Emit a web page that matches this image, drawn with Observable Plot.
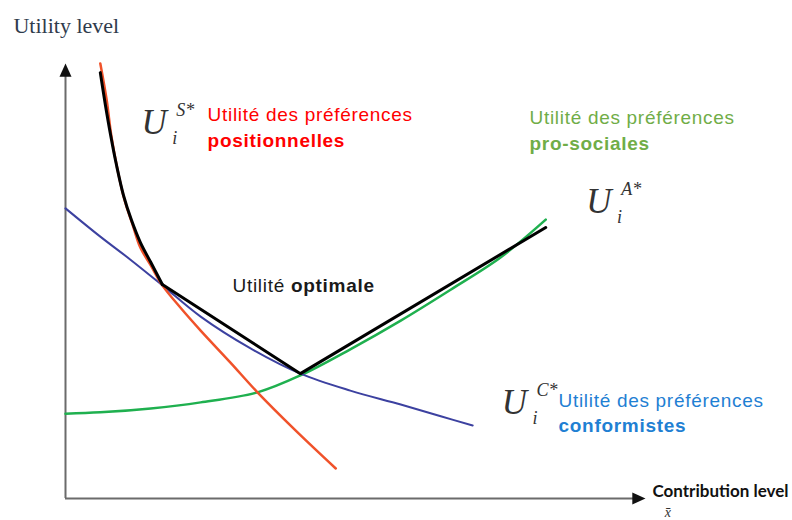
<!DOCTYPE html>
<html><head><meta charset="utf-8">
<script src="https://cdn.jsdelivr.net/npm/d3@7"></script>
<script src="https://cdn.jsdelivr.net/npm/@observablehq/plot@0.6"></script>
<style>body{margin:0;background:#fff}</style>
</head><body><div id="chart"></div>
<script>
// Positional preferences (red)
const redX = [0.60,0.71,0.79,0.90,1.02,1.16,1.29,1.47,1.67,1.98,2.33,2.84,3.31,3.97,4.66];
const redY = [10.0,9.16,8.34,7.54,6.85,6.28,5.77,5.36,4.90,4.39,3.86,3.13,2.44,1.56,0.69];
// Conformist preferences (blue)
const blueX = [0,0.60,1.12,1.67,2.33,3.19,4.05,4.91,5.78,6.47,7.02];
const blueY = [6.67,6.02,5.49,4.90,4.18,3.45,2.87,2.48,2.16,1.89,1.68];
// Pro-social preferences (green)
const greenX = [0,0.60,1.47,2.33,3.31,4.05,4.91,5.78,6.64,7.50,8.28];
const greenY = [1.95,1.98,2.07,2.21,2.44,2.83,3.43,4.09,4.80,5.54,6.41];
// Optimal utility (black envelope): curved part, then straight part
const blackCurveX = [0.60,0.69,0.78,0.88,1.00,1.14,1.29,1.47,1.67];
const blackCurveY = [9.79,9.03,8.34,7.66,6.97,6.39,5.89,5.43,4.92];
const blackLineX = [1.67,4.05,8.28];
const blackLineY = [4.92,2.87,6.23];

const pts = (xs, ys) => xs.map((x, i) => ({x, y: ys[i]}));

const upTri = {draw(ctx, size){ const r = Math.sqrt(size/Math.PI); ctx.moveTo(0,0); ctx.lineTo(-r, 2.2*r); ctx.lineTo(r, 2.2*r); ctx.closePath(); }};
const rightTri = {draw(ctx, size){ const r = Math.sqrt(size/Math.PI); ctx.moveTo(0,0); ctx.lineTo(-2.2*r, -r); ctx.lineTo(-2.2*r, r); ctx.closePath(); }};

const SANS = "Liberation Sans, Arial, sans-serif";
const SERIF = "Liberation Serif, Times New Roman, serif";

function label(str, x, y, o = {}) {
  return Plot.text([str], {x, y, text: d => d, textAnchor: "start", lineAnchor: "bottom", ...o});
}
function uSym(sup, x, y) {
  return [
    label("U", x, y, {fontFamily: SERIF, fontStyle: "italic", fontSize: 35, fill: "#333"}),
    label(sup, x + 0.60, y + 0.41, {fontFamily: SERIF, fontStyle: "italic", fontSize: 18, fill: "#333"}),
    label("i", x + 0.53, y - 0.23, {fontFamily: SERIF, fontStyle: "italic", fontSize: 18, fill: "#333"})
  ];
}

const chart = Plot.plot({
  width: 792, height: 520,
  marginLeft: 65, marginRight: 147, marginTop: 63, marginBottom: 22,
  x: {domain: [0, 10], axis: null},
  y: {domain: [0, 10], axis: null},
  style: {background: "#fff", overflow: "visible"},
  marks: [
    Plot.ruleX([0], {y1: 0, y2: 9.75, stroke: "#6b6b6b", strokeWidth: 2}),
    Plot.ruleY([0], {x1: 0, x2: 9.8, stroke: "#6b6b6b", strokeWidth: 2}),
    Plot.dot([[0, 10]], {symbol: upTri, r: 6, fill: "#111", stroke: "none"}),
    Plot.dot([[10, 0]], {symbol: rightTri, r: 6, fill: "#111", stroke: "none"}),
    Plot.line(pts(greenX, greenY), {x: "x", y: "y", stroke: "#1fb04f", strokeWidth: 2.5, curve: "catmull-rom"}),
    Plot.line(pts(blueX, blueY), {x: "x", y: "y", stroke: "#3c41a0", strokeWidth: 2, curve: "catmull-rom"}),
    Plot.line(pts(redX, redY), {x: "x", y: "y", stroke: "#f0522a", strokeWidth: 2.5, curve: "catmull-rom"}),
    Plot.line(pts(blackCurveX, blackCurveY), {x: "x", y: "y", stroke: "#000", strokeWidth: 3, curve: "catmull-rom"}),
    Plot.line(pts(blackLineX, blackLineY), {x: "x", y: "y", stroke: "#000", strokeWidth: 3, strokeLinejoin: "miter"}),
    label("Utility level", -0.897, 10.69, {fontFamily: SERIF, fontSize: 22, fill: "#2f3b4c"}),
    ...uSym("S*", 1.31, 8.39),
    label("Utilité des préférences", 2.45, 8.67, {fontFamily: SANS, fontSize: 19, fill: "#ff0000"}),
    label("positionnelles", 2.45, 8.07, {fontFamily: SANS, fontSize: 19, fontWeight: "bold", fill: "#ff0000"}),
    label("Utilité des préférences", 8.00, 8.60, {fontFamily: SANS, fontSize: 19, fill: "#70ad47"}),
    label("pro-sociales", 8.00, 8.02, {fontFamily: SANS, fontSize: 19, fontWeight: "bold", fill: "#70ad47"}),
    ...uSym("A*", 8.98, 6.57),
    label("Utilité optimale", 2.88, 4.74, {fontFamily: SANS, fontSize: 19, fill: "#1a1a1a"}),
    ...uSym("C*", 7.52, 1.95),
    label("Utilité des préférences", 8.50, 2.11, {fontFamily: SANS, fontSize: 19, fill: "#1f80d3"}),
    label("conformistes", 8.50, 1.52, {fontFamily: SANS, fontSize: 19, fontWeight: "bold", fill: "#1f80d3"}),
    label("Contribution level", 10.12, 0.03, {fontFamily: "Lato, sans-serif", fontSize: 17, fontWeight: "bold", fill: "#111"}),
    label("x\u0304", 10.33, -0.414, {fontFamily: SERIF, fontStyle: "italic", fontSize: 14, fill: "#333"})
  ]
});

const sel = d3.select(chart);
sel.selectAll('g[aria-label="text"]')
  .filter(function(){ return (this.getAttribute("font-family") || "").includes("Liberation Sans"); })
  .attr("letter-spacing", 0.7);
sel.selectAll("text")
  .filter(function(){ return this.textContent === "Utilité optimale"; })
  .each(function(){
    const t = d3.select(this);
    t.text("Utilité ");
    t.append("tspan").attr("font-weight", "bold").text("optimale");
  });

document.getElementById("chart").append(chart);
</script>
</body></html>
